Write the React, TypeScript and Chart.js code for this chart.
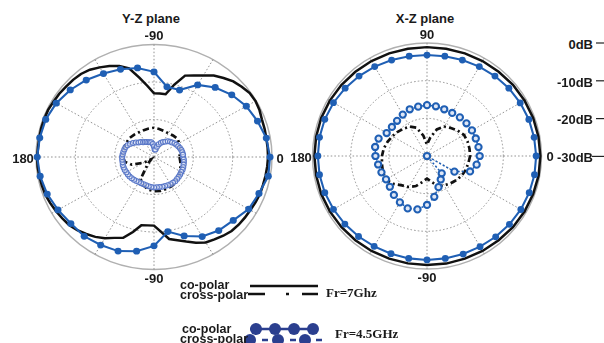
import React, { useEffect, useRef } from 'react';
import { Chart, registerables } from 'chart.js';

Chart.register(...registerables);

// ---------- DATA (dB, -30 at centre, 0 at outer ring) ----------
// Y-Z plane: angle measured clockwise from 0 (top is -90 / 270)
const yzCoPolar7GHz_5deg = [
  -1.0, -1.1, -1.2, -1.3, -1.3, -1.5, -1.7, -1.8, -1.9, -2.1, -2.6, -3.2,
  -3.7, -4.8, -6.0, -7.0, -7.8, -10.0, -11.7, -11.7, -11.5, -9.3, -7.1, -6.2,
  -5.0, -4.0, -3.2, -2.4, -1.8, -1.5, -1.2, -0.9, -0.6, -0.5, -0.4, -0.3,
  -0.3, -0.4, -0.4, -0.3, -0.3, -0.3, -0.5, -0.6, -0.8, -0.9, -1.1, -1.6,
  -2.4, -3.2, -4.2, -5.5, -8.5, -11.0, -13.0, -13.0, -13.0, -10.0, -6.9, -6.0,
  -4.9, -3.5, -2.5, -1.5, -0.9, -0.3, -0.2, -0.4, -0.8, -0.9, -1.0, -1.0,
];
const yzCrossPolar7GHz_10deg = [
  -23.5, -23.2, -22.8, -22.3, -21.8, -21.3, -21.0, -20.9, -20.8, -20.9, -21.2, -22.0,
  -23.2, -27.5, -29.0, -27.0, -24.0, -22.5, -22.0, -22.0, -22.0, -22.0, -22.0, -22.2,
  -22.4, -22.4, -22.3, -22.2, -22.4, -22.6, -22.7, -22.5, -22.3, -22.6, -23.0, -23.3,
];
const yzCoPolar45GHz_10deg = [
  -0.5, -0.5, -1.6, -2.2, -3.7, -4.4, -5.5, -7.6, -9.8, -6.3, -4.5, -3.3,
  -2.9, -2.4, -2.4, -1.8, -1.1, -0.6, -0.3, -0.5, -0.7, -1.3, -2.2, -3.2,
  -4.3, -5.1, -5.9, -7.3, -11.0, -11.0, -7.8, -5.8, -4.2, -2.9, -2.0, -1.0,
];
const yzCrossPolar45GHz_5deg = [
  -22.6, -22.4, -22.3, -22.2, -22.1, -22.0, -22.0, -21.9, -21.8, -21.7, -21.6, -21.6,
  -21.6, -21.7, -21.8, -21.8, -21.9, -21.9, -21.9, -22.0, -22.1, -22.2, -22.3, -22.3,
  -22.3, -22.2, -22.1, -22.0, -21.9, -21.9, -21.9, -21.8, -21.8, -21.8, -21.9, -21.9,
  -21.9, -22.0, -22.1, -22.2, -22.3, -22.6, -23.0, -23.5, -24.0, -24.5, -24.8, -25.2,
  -25.4, -25.6, -25.8, -25.9, -26.0, -26.5, -27.2, -28.0, -28.0, -27.2, -26.4, -25.8,
  -25.4, -25.0, -24.5, -24.2, -24.0, -23.6, -23.4, -23.2, -23.0, -22.8, -22.7, -22.6,
];

// X-Z plane: angle measured counter-clockwise from 0 (top is 90)
const xzCoPolar7GHz_10deg = [
  -0.3, -0.35, -0.4, -0.5, -0.6, -0.8, -0.9, -1.0, -1.1, -1.1, -1.1, -1.0,
  -0.9, -0.8, -0.7, -0.6, -0.5, -0.5, -0.5, -0.5, -0.5, -0.6, -0.7, -0.8,
  -0.9, -1.0, -1.05, -1.05, -1.0, -1.0, -0.9, -0.8, -0.6, -0.5, -0.4, -0.3,
];
const xzCrossPolar7GHz_10deg = [
  -18.7, -18.7, -18.7, -18.8, -19.5, -20.3, -21.0, -22.5, -25.0, -27.0, -24.5, -22.0,
  -21.0, -20.5, -20.0, -19.5, -19.0, -18.5, -18.2, -18.0, -17.7, -17.5, -18.5, -19.8,
  -20.5, -21.5, -23.0, -24.0, -23.0, -21.5, -21.0, -20.5, -20.0, -19.5, -19.2, -19.0,
];
const xzCoPolar45GHz_10deg = [
  -1.4, -1.5, -1.6, -1.8, -2.0, -2.3, -2.6, -2.9, -3.1, -3.2, -3.1, -2.9,
  -2.6, -2.3, -2.0, -1.7, -1.5, -1.4, -1.4, -1.4, -1.5, -1.7, -1.9, -2.1,
  -2.3, -2.4, -2.4, -2.4, -2.4, -2.3, -2.2, -2.0, -1.8, -1.6, -1.5, -1.4,
];
const xzCrossPolar45GHz_10deg = [
  -16.2, -16.3, -16.4, -16.4, -16.5, -16.6, -16.8, -16.8, -16.6, -16.5, -16.7, -16.8,
  -17.3, -17.8, -18.0, -17.8, -16.5, -16.2, -16.5, -17.0, -17.3, -17.6, -17.3, -16.5,
  -15.8, -15.2, -15.6, -17.0, -19.0, -21.2, -22.8, -24.0, -30.0, -21.7, -18.0, -16.8,
];

const dbTicks = ['0dB', '-10dB', '-20dB', '-30dB'];
const R_MIN = -30;
const R_MAX = 0;
const LABEL_STEP = 5; // one radar spoke per 5 degrees
const LABEL_COUNT = 360 / LABEL_STEP;
const angleLabels = Array.from({ length: LABEL_COUNT }, (_, i) => String(i * LABEL_STEP));

// place a series (sampled every `step` degrees) onto the 5-degree radar labels
function toRadar(values: number[], step: number, ccw: boolean): (number | null)[] {
  const out: (number | null)[] = new Array(LABEL_COUNT).fill(null);
  values.forEach((v, k) => {
    const theta = k * step;
    const idx = ccw ? ((360 - theta) % 360) / LABEL_STEP : theta / LABEL_STEP;
    out[idx] = v;
  });
  return out;
}

const BLUE = '#1f5fb4';
const BLACK = '#111111';
const NAVY = '#2b3f8f';

function stretchPlugin(sx: number, sy: number) {
  return {
    id: 'stretch',
    beforeDraw(chart: any) {
      const s = chart.scales.r;
      const ctx = chart.ctx;
      ctx.save();
      ctx.translate(s.xCenter, s.yCenter);
      ctx.scale(sx, sy);
      ctx.translate(-s.xCenter, -s.yCenter);
    },
    afterDraw(chart: any) {
      chart.ctx.restore();
    },
  };
}

function PolarPlot(props: { datasets: any[]; sx: number; sy: number; left: number; top: number }) {
  const ref = useRef<HTMLCanvasElement>(null);
  useEffect(() => {
    const chart = new Chart(ref.current as HTMLCanvasElement, {
      type: 'radar',
      data: { labels: angleLabels, datasets: props.datasets },
      options: {
        responsive: false,
        maintainAspectRatio: false,
        animation: false,
        events: [],
        layout: { padding: 20 },
        plugins: { legend: { display: false }, tooltip: { enabled: false }, title: { display: false } },
        elements: { line: { tension: 0 } },
        scales: {
          r: {
            min: R_MIN,
            max: R_MAX,
            startAngle: 90,
            ticks: { display: false, stepSize: 10 },
            pointLabels: { display: false },
            grid: {
              circular: true,
              color: (c: any) => (c.tick && c.tick.value === 0 ? '#b0b0b0' : '#8c8c8c'),
              lineWidth: (c: any) => (c.tick && c.tick.value === 0 ? 1.4 : 0.9),
            },
            border: {
              dash: (c: any) => (c.tick && c.tick.value === 0 ? [] : [1.5, 2]),
            },
            angleLines: {
              display: true,
              color: (c: any) => (c.index % 6 === 0 ? '#8c8c8c' : 'rgba(0,0,0,0)'),
              lineWidth: (c: any) => (c.index % 6 === 0 ? 0.9 : 0),
              borderDash: [1.5, 2],
            },
          },
        },
      } as any,
      plugins: [stretchPlugin(props.sx, props.sy)],
    });
    return () => chart.destroy();
  }, []);
  return (
    <canvas
      ref={ref}
      width={260}
      height={260}
      style={{ position: 'absolute', left: props.left, top: props.top, width: 260, height: 260 }}
    />
  );
}

const base = { spanGaps: true, fill: false, clip: false, backgroundColor: 'rgba(0,0,0,0)' };

const yzDatasets = [
  {
    ...base,
    label: 'co-polar 4.5GHz',
    data: toRadar(yzCoPolar45GHz_10deg, 10, false),
    borderColor: BLUE,
    borderWidth: 2,
    pointRadius: 3.3,
    pointBackgroundColor: BLUE,
    pointBorderWidth: 0,
  },
  {
    ...base,
    label: 'cross-polar 4.5GHz',
    data: toRadar(yzCrossPolar45GHz_5deg, 5, false),
    showLine: false,
    borderColor: '#5a78c8',
    pointRadius: 2.4,
    pointBorderWidth: 1,
    pointBorderColor: '#5a78c8',
    pointBackgroundColor: 'rgba(225,232,248,0.5)',
  },
  {
    ...base,
    label: 'co-polar 7GHz',
    data: toRadar(yzCoPolar7GHz_5deg, 5, false),
    borderColor: BLACK,
    borderWidth: 2.4,
    pointRadius: 0,
  },
  {
    ...base,
    label: 'cross-polar 7GHz',
    data: toRadar(yzCrossPolar7GHz_10deg, 10, false),
    borderColor: BLACK,
    borderWidth: 2.6,
    borderDash: [6, 3, 2, 3],
    pointRadius: 0,
  },
];

const xzDatasets = [
  {
    ...base,
    label: 'co-polar 4.5GHz',
    data: toRadar(xzCoPolar45GHz_10deg, 10, true),
    borderColor: BLUE,
    borderWidth: 2,
    pointRadius: 3.3,
    pointBackgroundColor: BLUE,
    pointBorderWidth: 0,
  },
  {
    ...base,
    label: 'cross-polar 4.5GHz',
    data: toRadar(xzCrossPolar45GHz_10deg, 10, true),
    borderColor: BLUE,
    borderWidth: 1.5,
    borderDash: [2, 2],
    pointRadius: 3,
    pointBorderWidth: 2,
    pointBorderColor: BLUE,
    pointBackgroundColor: '#dfe7f6',
  },
  {
    ...base,
    label: 'co-polar 7GHz',
    data: toRadar(xzCoPolar7GHz_10deg, 10, true),
    borderColor: BLACK,
    borderWidth: 2.4,
    pointRadius: 0,
  },
  {
    ...base,
    label: 'cross-polar 7GHz',
    data: toRadar(xzCrossPolar7GHz_10deg, 10, true),
    borderColor: BLACK,
    borderWidth: 2.6,
    borderDash: [6, 3, 2, 3],
    pointRadius: 0,
  },
];

const sans = '"Liberation Sans", Arial, sans-serif';
const serif = '"Liberation Serif", "Times New Roman", serif';

function Label(props: { x: number; y: number; text: string; align?: 'left' | 'center' | 'right'; size?: number; font?: string }) {
  const align = props.align || 'center';
  const tx = align === 'center' ? '-50%' : align === 'right' ? '-100%' : '0';
  return (
    <div
      style={{
        position: 'absolute',
        left: props.x,
        top: props.y,
        transform: `translate(${tx}, -50%)`,
        font: `bold ${props.size || 13}px ${props.font || sans}`,
        color: '#1a1a1a',
        whiteSpace: 'nowrap',
        lineHeight: 1,
      }}
    >
      {props.text}
    </div>
  );
}

export default function App() {
  return (
    <div style={{ position: 'absolute', left: 0, top: 0, width: 604, height: 343, overflow: 'hidden', background: '#fff' }}>
      <PolarPlot datasets={yzDatasets} sx={118 / 110} sy={112.5 / 110} left={24} top={27} />
      <PolarPlot datasets={xzDatasets} sx={114.5 / 110} sy={113 / 110} left={297} top={26} />

      <Label x={151} y={18} text="Y-Z plane" />
      <Label x={154} y={35} text="-90" />
      <Label x={23} y={158} text="180" />
      <Label x={280} y={158} text="0" />
      <Label x={154} y={278} text="-90" />

      <Label x={425} y={18} text="X-Z plane" />
      <Label x={427} y={34} text="90" />
      <Label x={301} y={157} text="180" />
      <Label x={550} y={156} text="0" />
      <Label x={427} y={277} text="-90" />

      {dbTicks.map((t, i) => (
        <Label key={t} x={593} y={44 + i * 37.5} text={t} align="right" />
      ))}

      <svg width={604} height={343} style={{ position: 'absolute', left: 0, top: 0 }}>
        {dbTicks.map((t, i) => (
          <line key={t} x1={i === 3 ? 592 : 596} x2={604} y1={43 + i * 37.8} y2={43 + i * 37.8} stroke="#222" strokeWidth={1.2} />
        ))}
        <line x1={250} x2={318} y1={286} y2={286} stroke={BLACK} strokeWidth={2.5} />
        <line x1={248} x2={265} y1={294} y2={294} stroke={BLACK} strokeWidth={2.5} />
        <line x1={286} x2={289} y1={294} y2={294} stroke={BLACK} strokeWidth={2.5} />
        <line x1={302} x2={318} y1={294} y2={294} stroke={BLACK} strokeWidth={2.5} />

        <line x1={250} x2={318} y1={329} y2={329} stroke={NAVY} strokeWidth={2.5} />
        {[256, 275, 294, 313].map((cx) => (
          <circle key={cx} cx={cx} cy={329} r={6} fill={NAVY} />
        ))}
        {[262, 290, 316].map((x) => (
          <line key={x} x1={x} x2={x + 6} y1={340} y2={340} stroke={NAVY} strokeWidth={2.5} />
        ))}
        {[250, 278, 305].map((cx) => (
          <circle key={cx} cx={cx} cy={340} r={6} fill={NAVY} />
        ))}
      </svg>

      <Label x={180} y={285} text="co-polar" align="left" size={12.5} />
      <Label x={180} y={294.5} text="cross-polar" align="left" size={12.5} />
      <Label x={326} y={292} text="Fr=7Ghz" align="left" size={13} font={serif} />
      <Label x={182} y={329} text="co-polar" align="left" size={12.5} />
      <Label x={180} y={339} text="cross-polar" align="left" size={12.5} />
      <Label x={335} y={333} text="Fr=4.5GHz" align="left" size={13} font={serif} />
    </div>
  );
}
